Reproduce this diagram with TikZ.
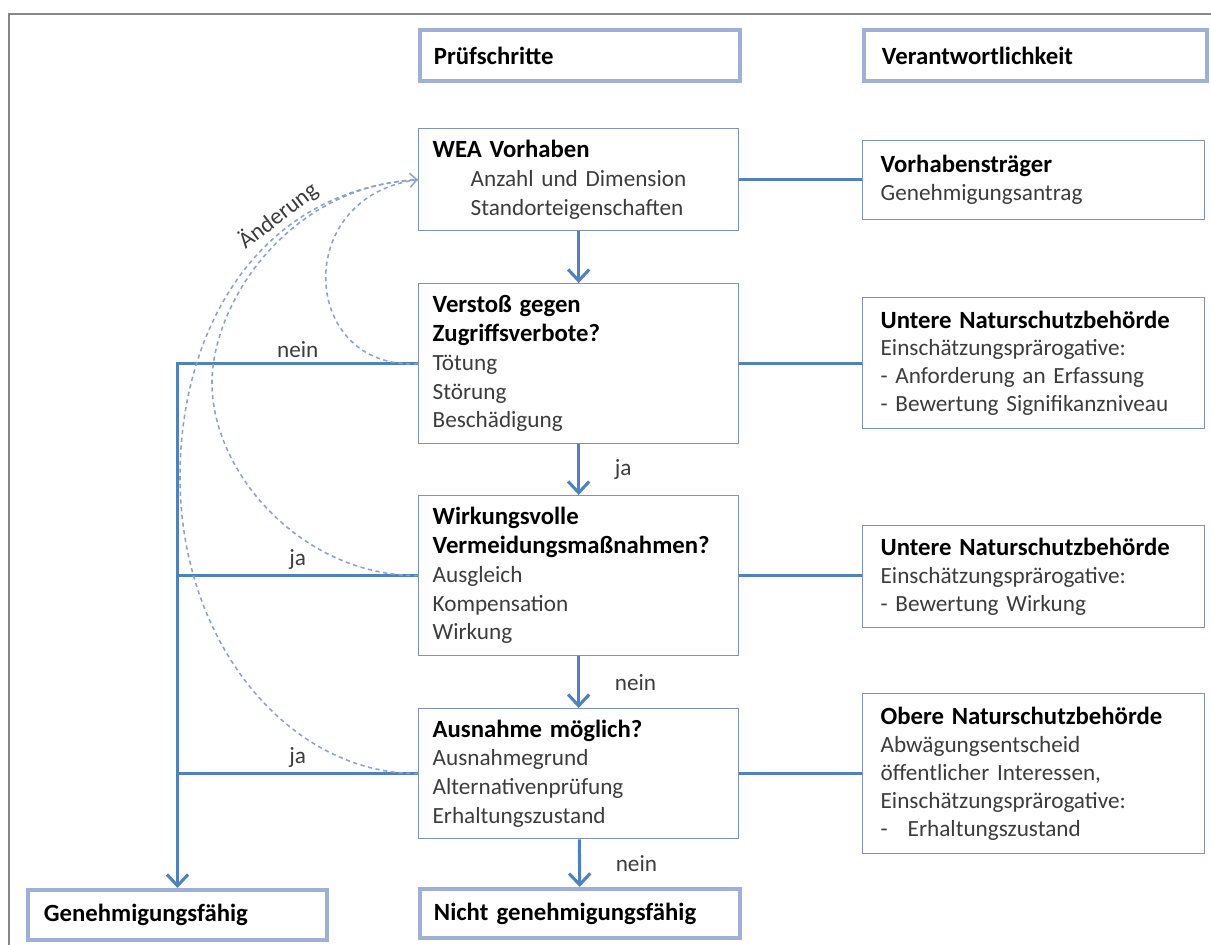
\documentclass[tikz,border=0pt]{standalone}
\usepackage{fontspec}
\setmainfont{Carlito}
\usetikzlibrary{arrows.meta}

\definecolor{flowblue}{RGB}{79,129,189}
\definecolor{boxline}{RGB}{125,147,190}
\definecolor{hdrline}{RGB}{158,176,214}
\definecolor{dashline}{RGB}{140,162,204}
\definecolor{frameline}{RGB}{135,135,135}
\definecolor{itemgray}{RGB}{60,60,60}

\newcommand{\steptitle}[1]{\textcolor{black}{\fontsize{17.6}{20.5}\selectfont\bfseries #1}}

\tikzset{
    stepbox/.style={draw=boxline, line width=0.9pt, anchor=north west, align=left,
        text width=7.3cm, inner xsep=0.35cm, inner ysep=0pt,
        font=\fontsize{16.5}{20.5}\selectfont, text=itemgray},
    rolebox/.style={stepbox, text width=7.65cm, inner xsep=0.45cm,
        font=\fontsize{16.5}{19.8}\selectfont},
    hdrbox/.style={draw=hdrline, line width=2.8pt, anchor=north west, align=left,
        text width=7.3cm, inner xsep=0.35cm, inner ysep=0pt,
        font=\fontsize{17.6}{20.5}\selectfont\bfseries, text=black},
    link/.style={draw=flowblue, line width=2.2pt},
    flow/.style={link, -{Straight Barb[length=8pt,width=15pt]}},
    change/.style={draw=dashline, line width=1.1pt, dash pattern=on 3pt off 2.5pt},
    lbl/.style={font=\fontsize{16.5}{20}\selectfont, text=itemgray}
}

\begin{document}
\begin{tikzpicture}[x=0.025cm, y=-0.025cm]
    \useasboundingbox (0,0) rectangle (1211,945);
    \draw[frameline, line width=2pt] (9,945) -- (9,14) -- (1211,14);

    \node[hdrbox, minimum height=1.275cm] (pruef) at (418,28) {Prüfschritte};
    \node[hdrbox, text width=7.675cm, inner xsep=0.45cm, minimum height=1.275cm] (verantw) at (862,28) {Verantwortlichkeit};

    \node[stepbox, minimum height=2.55cm] (wea) at (418,128)
        {\steptitle{WEA Vorhaben}\\\hspace*{0.95cm}Anzahl und Dimension\\\hspace*{0.95cm}Standorteigenschaften};
    \node[stepbox, minimum height=4cm] (verstoss) at (418,283)
        {\steptitle{Verstoß gegen}\\\steptitle{Zugriffsverbote?}\\Tötung\\Störung\\Beschädigung};
    \node[stepbox, minimum height=4cm] (wirk) at (418,495)
        {\steptitle{Wirkungsvolle}\\\steptitle{Vermeidungsmaßnahmen?}\\Ausgleich\\Kompensation\\Wirkung};
    \node[stepbox, minimum height=3.25cm] (ausnahme) at (418,708)
        {\steptitle{Ausnahme möglich?}\\Ausnahmegrund\\Alternativenprüfung\\Erhaltungszustand};

    \node[rolebox, minimum height=1.975cm] (traeger) at (862,140)
        {\steptitle{Vorhabensträger}\\Genehmigungsantrag};
    \node[rolebox, minimum height=3.275cm] (unb1) at (862,297)
        {\steptitle{Untere Naturschutzbehörde}\\Einschätzungsprärogative:\\- Anforderung an Erfassung\\- Bewertung Signifikanzniveau};
    \node[rolebox, minimum height=2.55cm] (unb2) at (862,525)
        {\steptitle{Untere Naturschutzbehörde}\\Einschätzungsprärogative:\\- Bewertung Wirkung};
    \node[rolebox, minimum height=4cm] (onb) at (862,693)
        {\steptitle{Obere Naturschutzbehörde}\\Abwägungsentscheid\\öffentlicher Interessen,\\Einschätzungsprärogative:\\-\hspace{0.5cm}Erhaltungszustand};

    \node[hdrbox, text width=6.675cm, inner xsep=0.4cm, minimum height=1.25cm] (genehm) at (26,888) {Genehmigungsfähig};
    \node[hdrbox, minimum height=1.225cm] (nicht) at (418,887) {Nicht genehmigungsfähig};

    \draw[link] (wea.east) -- (wea.east -| traeger.west);
    \draw[link] (verstoss.east) -- (verstoss.east -| unb1.west);
    \draw[link] (wirk.east) -- (wirk.east -| unb2.west);
    \draw[link] (ausnahme.east) -- (ausnahme.east -| onb.west);

    \draw[flow] (wea) -- (verstoss);
    \draw[flow] (verstoss) -- node[lbl, right=0.75cm] {ja} (wirk);
    \draw[flow] (wirk) -- node[lbl, right=0.75cm] {nein} (ausnahme);
    \draw[flow] (ausnahme) -- node[lbl, right=0.75cm] {nein} (nicht);

    \draw[flow] (verstoss.west) -- node[lbl, above] {nein} (verstoss.west -| genehm.north) -- (genehm.north);
    \draw[link] (wirk.west) -- node[lbl, above] {ja} (wirk.west -| genehm.north);
    \draw[link] (ausnahme.west) -- node[lbl, above] {ja} (ausnahme.west -| genehm.north);

    \coordinate (farleft) at (180,477);
    \coordinate (midleft) at (212,380);
    \draw[change] (verstoss.west) .. controls +(-118,7) and +(-128,16) .. (wea.west);
    \draw[change] (wirk.west) .. controls +(-118,0) and +(-2,90) .. (midleft)
        .. controls +(2,-80) and +(-128,6) .. (wea.west);
    \draw[change, -{Straight Barb[length=5pt,width=10pt]}] (ausnahme.west) .. controls +(-130,0) and +(0,165) .. (farleft)
        .. controls +(0,-150) and +(-158,11) .. node[lbl, sloped, above, pos=0.67, inner sep=2pt] {Änderung} (wea.west);
\end{tikzpicture}
\end{document}
